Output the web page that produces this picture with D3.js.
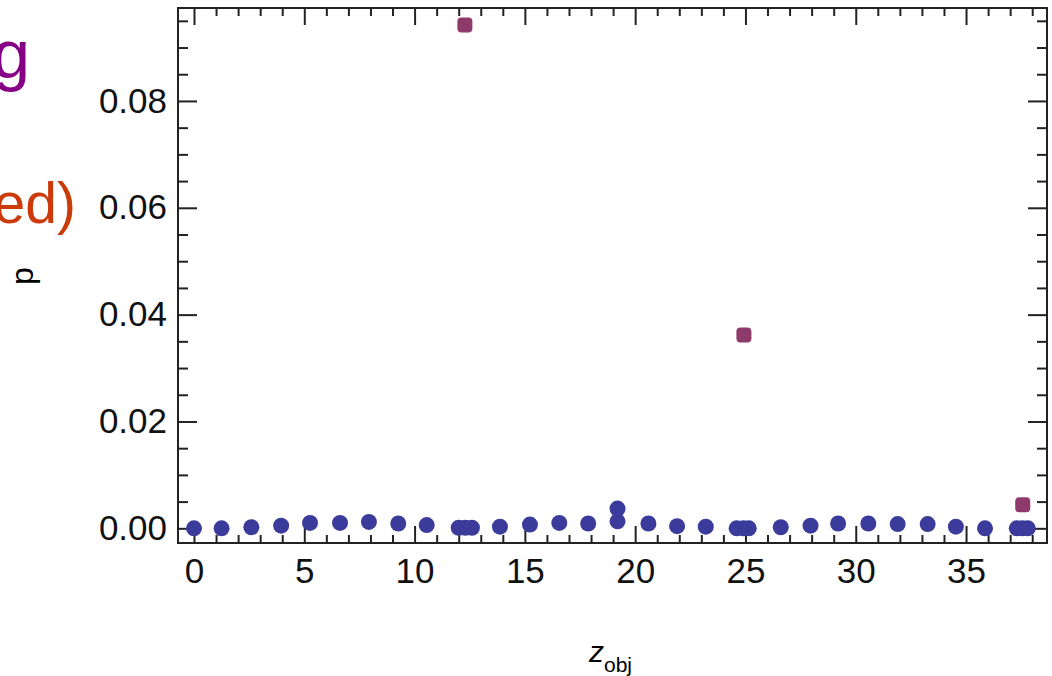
<!DOCTYPE html>
<html>
<head>
<meta charset="utf-8">
<script src="https://cdn.jsdelivr.net/npm/d3@7"></script>
<style>
  body { margin: 0; background: #fff; }
  svg { display: block; font-family: "Liberation Sans", Arial, sans-serif; }
</style>
</head>
<body>
<script>
// data
var blueX = [0, 1.25, 2.6, 3.95, 5.26, 6.62, 7.93, 9.26, 10.55, 12.0, 12.3, 12.6, 13.87, 15.23, 16.56, 17.87,
             19.2, 19.2, 20.6, 21.9, 23.2, 24.6, 24.9, 25.15, 26.6, 27.95, 29.2, 30.57, 31.9, 33.26, 34.54,
             35.86, 37.3, 37.55, 37.8];
var blueY = [0, 0, 0.0002, 0.0005, 0.001, 0.001, 0.0012, 0.0009, 0.0006, 0.0001, 0.0001, 0.0001, 0.0003, 0.0007, 0.001, 0.0009,
             0.0037, 0.0013, 0.0009, 0.0004, 0.0003, 0, 0, 0, 0.0002, 0.0005, 0.0009, 0.0009, 0.0008, 0.0008, 0.0003,
             0, 0, 0, 0];
var redX = [12.28, 24.93, 37.57];
var redY = [0.0942, 0.0362, 0.0044];

var xTicks = [0, 5, 10, 15, 20, 25, 30, 35];
var yTicks = [0, 0.02, 0.04, 0.06, 0.08];

var width = 1052,
    height = 676;
var plotLeft = 178, plotRight = 1047, plotTop = 8, plotBottom = 543;

var svg = d3.select("body")
    .append("svg")
    .attr("width", width)
    .attr("height", height);

var x = d3.scaleLinear().domain([-0.725, 38.67]).range([plotLeft, plotRight]);
var y = d3.scaleLinear().domain([-0.00275, 0.0974]).range([plotBottom, plotTop]);

var xMinor = d3.range(0, 39, 1).filter(function(d){ return d % 5 != 0; });
var yMinor = d3.range(0, 0.0975, 0.005).filter(function(d){ return Math.round(d * 1000) % 20 != 0; });

function styleAxis(g){
    g.select(".domain").remove();
    g.selectAll(".tick line").attr("stroke", "#222").attr("stroke-width", 2);
    g.selectAll(".tick text").attr("fill", "#111").style("font-size", "35px")
        .style("font-family", "'Liberation Sans', Arial, sans-serif");
}

// bottom axis
svg.append("g").attr("transform", "translate(0," + plotBottom + ")")
    .call(d3.axisBottom(x).tickValues(xTicks).tickSize(-17).tickPadding(15).tickFormat(d3.format("d")))
    .call(styleAxis);
svg.append("g").attr("transform", "translate(0," + plotBottom + ")")
    .call(d3.axisBottom(x).tickValues(xMinor).tickSize(-8).tickFormat(""))
    .call(styleAxis);
// top axis
svg.append("g").attr("transform", "translate(0," + plotTop + ")")
    .call(d3.axisTop(x).tickValues(xTicks).tickSize(-17).tickFormat(""))
    .call(styleAxis);
svg.append("g").attr("transform", "translate(0," + plotTop + ")")
    .call(d3.axisTop(x).tickValues(xMinor).tickSize(-8).tickFormat(""))
    .call(styleAxis);
// left axis
svg.append("g").attr("transform", "translate(" + plotLeft + ",0)")
    .call(d3.axisLeft(y).tickValues(yTicks).tickSize(-19).tickPadding(11).tickFormat(d3.format(".2f")))
    .call(styleAxis);
svg.append("g").attr("transform", "translate(" + plotLeft + ",0)")
    .call(d3.axisLeft(y).tickValues(yMinor).tickSize(-10).tickFormat(""))
    .call(styleAxis);
// right axis
svg.append("g").attr("transform", "translate(" + plotRight + ",0)")
    .call(d3.axisRight(y).tickValues(yTicks).tickSize(-19).tickFormat(""))
    .call(styleAxis);
svg.append("g").attr("transform", "translate(" + plotRight + ",0)")
    .call(d3.axisRight(y).tickValues(yMinor).tickSize(-10).tickFormat(""))
    .call(styleAxis);

// frame
svg.append("rect")
    .attr("x", plotLeft).attr("y", plotTop)
    .attr("width", plotRight - plotLeft).attr("height", plotBottom - plotTop)
    .attr("fill", "none").attr("stroke", "#222").attr("stroke-width", 2);

// blue points
svg.selectAll(".blue")
    .data(blueX)
    .enter()
    .append("circle")
    .attr("class", "blue")
    .attr("cx", function(d){ return x(d); })
    .attr("cy", function(d, i){ return y(blueY[i]); })
    .attr("r", 8)
    .attr("fill", "#3b3b9b");

// red points
svg.selectAll(".red")
    .data(redX)
    .enter()
    .append("rect")
    .attr("class", "red")
    .attr("x", function(d){ return x(d) - 7.5; })
    .attr("y", function(d, i){ return y(redY[i]) - 7.5; })
    .attr("width", 15).attr("height", 15)
    .attr("rx", 4)
    .attr("fill", "#8e3a6a");

// axis labels
var xl = svg.append("text")
    .attr("x", 589).attr("y", 662)
    .style("font-size", "30px");
xl.append("tspan").style("font-style", "italic").text("z");
xl.append("tspan").attr("dy", 10).style("font-size", "21px").text("obj");

svg.append("text")
    .attr("transform", "translate(33,276) rotate(-90)")
    .attr("text-anchor", "middle")
    .style("font-size", "32px")
    .text("p");

// clipped side notes
svg.append("text")
    .attr("x", 30).attr("y", 78)
    .attr("text-anchor", "end")
    .attr("fill", "#850085")
    .style("font-size", "68px")
    .text("g");
svg.append("text")
    .attr("x", 76).attr("y", 223)
    .attr("text-anchor", "end")
    .attr("fill", "#cc3a0a")
    .style("font-size", "57px")
    .text("ed)");
</script>
</body>
</html>
